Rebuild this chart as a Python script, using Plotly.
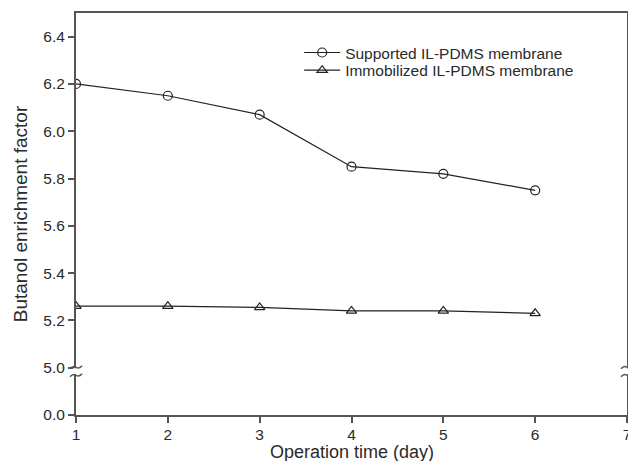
import plotly.graph_objects as go

days = [1, 2, 3, 4, 5, 6]
supported = [6.20, 6.15, 6.07, 5.85, 5.82, 5.75]
immobilized = [5.26, 5.26, 5.255, 5.24, 5.24, 5.23]

ytick_vals = [4.8, 5.0, 5.2, 5.4, 5.6, 5.8, 6.0, 6.2, 6.4]
ytick_text = ["0.0", "5.0", "5.2", "5.4", "5.6", "5.8", "6.0", "6.2", "6.4"]
xtick_vals = [1, 2, 3, 4, 5, 6, 7]
x_title = "Operation time (day)"
y_title = "Butanol enrichment factor"

FONT = "Liberation Sans, Arial, sans-serif"
AX = "#555555"
TXT = "#2a2a2a"

W, H = 620, 453
ML, MR, MT, MB = 68, 1, 5, 46
PLOT_W = W - ML - MR
PLOT_H = H - MT - MB

fig = go.Figure()
fig.add_trace(go.Scatter(
    x=days, y=supported, mode="lines+markers", name="Supported IL-PDMS membrane",
    line=dict(color="#222222", width=1.2), legend="legend",
    marker=dict(symbol="circle-open", size=9, color="#222222", line=dict(width=1.2)),
))
fig.add_trace(go.Scatter(
    x=days, y=immobilized, mode="lines+markers", name="Immobilized IL-PDMS membrane",
    line=dict(color="#222222", width=1.2), legend="legend2",
    marker=dict(symbol="triangle-up-open", size=9, color="#222222", line=dict(width=1.2)),
))

# axis break marks
ypp = 1.7 / PLOT_H
xpp = 1.0 / PLOT_W
yc = 4.985
shapes = []
for xp in [0.0, 1.0]:
    shapes.append(dict(type="rect", xref="paper", yref="y",
                       x0=xp - 3 * xpp, x1=xp + 3 * xpp,
                       y0=yc - 3 * ypp, y1=yc + 3 * ypp,
                       fillcolor="white", line=dict(width=0), layer="above"))
    for dy in [-4, 4]:
        y0 = yc + dy * ypp
        path = (f"M {xp - 6 * xpp},{y0 - 1.5 * ypp} "
                f"Q {xp - 3 * xpp},{y0 + 2 * ypp} {xp},{y0} "
                f"Q {xp + 3 * xpp},{y0 - 2 * ypp} {xp + 6 * xpp},{y0 + 1.5 * ypp}")
        shapes.append(dict(type="path", xref="paper", yref="y", path=path,
                           line=dict(color=AX, width=1.5), layer="above"))

leg_common = dict(xanchor="left", yanchor="top", bgcolor="rgba(0,0,0,0)",
                  font=dict(size=15.5, color=TXT), itemwidth=36)

fig.update_layout(
    width=W, height=H,
    margin=dict(l=ML, r=MR, t=MT, b=MB, autoexpand=False),
    paper_bgcolor="white", plot_bgcolor="white",
    font=dict(family=FONT, color=TXT, size=15.5),
    showlegend=True,
    legend=dict(x=0.405, y=0.943, **leg_common),
    legend2=dict(x=0.405, y=0.899, **leg_common),
    xaxis=dict(range=[1, 7], tickvals=xtick_vals, showgrid=False, zeroline=False,
               showline=True, linecolor=AX, linewidth=2, mirror=True,
               ticks="outside", ticklen=6, tickcolor=AX, tickwidth=1.5,
               tickfont=dict(size=15.5), ticklabeloverflow="allow", automargin=False,
               ticklabelstandoff=-2),
    yaxis=dict(range=[4.8, 6.5], tickvals=ytick_vals, ticktext=ytick_text,
               showgrid=False, zeroline=False, automargin=False,
               showline=True, linecolor=AX, linewidth=2, mirror=True,
               ticks="outside", ticklen=6, tickcolor=AX, tickwidth=1.5,
               tickfont=dict(size=15.5),
               title=dict(text=y_title, font=dict(size=19), standoff=11)),
    shapes=shapes,
    annotations=[dict(text=x_title, xref="paper", yref="paper", x=0.5, y=-0.091,
                      xanchor="center", yanchor="middle", showarrow=False,
                      font=dict(size=18, color=TXT))],
)

fig.write_html("out.html")
